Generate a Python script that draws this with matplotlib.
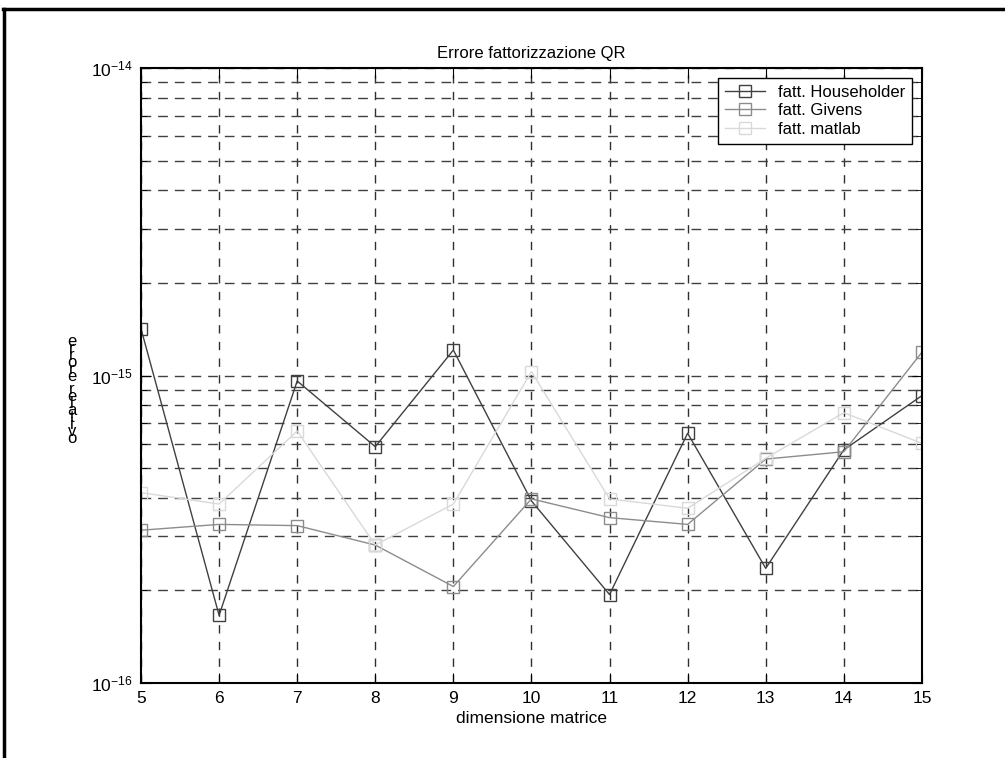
import matplotlib
matplotlib.use("Agg")
import matplotlib.pyplot as plt
from matplotlib.lines import Line2D
from matplotlib.ticker import LogLocator, FuncFormatter, NullFormatter
import numpy as np

plt.rcParams['font.family'] = ['Liberation Sans', 'DejaVu Sans']
plt.rcParams['mathtext.fontset'] = 'custom'
plt.rcParams['mathtext.rm'] = 'Liberation Sans'
plt.rcParams['mathtext.it'] = 'Liberation Sans'

# Data
dimensione = np.arange(5, 16)
err_householder = np.array([1.42e-15, 1.66e-16, 9.6e-16, 5.87e-16, 1.21e-15, 3.91e-16,
                            1.94e-16, 6.49e-16, 2.36e-16, 5.73e-16, 8.6e-16])
err_givens = np.array([3.14e-16, 3.28e-16, 3.25e-16, 2.81e-16, 2.06e-16, 3.97e-16,
                       3.45e-16, 3.28e-16, 5.35e-16, 5.65e-16, 1.19e-15])
err_matlab = np.array([4.16e-16, 3.82e-16, 6.6e-16, 2.81e-16, 3.82e-16, 1.03e-15,
                       3.97e-16, 3.70e-16, 5.38e-16, 7.57e-16, 6.02e-16])

fig = plt.figure(figsize=(10.05, 7.58), dpi=100)
ax = fig.add_axes([0.1403, 0.0989, 0.777, 0.8114])

style = dict(marker='s', markerfacecolor='none', markersize=8, linewidth=1, markeredgewidth=1)
ax.semilogy(dimensione, err_householder, color='#404040', label='fatt. Householder', **style)
ax.semilogy(dimensione, err_givens, color='#8c8c8c', label='fatt. Givens', **style)
ax.semilogy(dimensione, err_matlab, color='#d9d9d9', label='fatt. matlab', **style)

ax.set_xlim(5, 15)
ax.set_ylim(1e-16, 1e-14)
ax.set_xticks(dimensione)
ax.yaxis.set_major_locator(LogLocator(base=10))
ax.yaxis.set_minor_locator(LogLocator(base=10, subs=np.arange(2, 10)))
ax.yaxis.set_minor_formatter(NullFormatter())
ax.yaxis.set_major_formatter(FuncFormatter(
    lambda v, p: r'$10^{%d}$' % int(round(np.log10(v)))))

ax.tick_params(which='both', direction='in', top=True, right=True, labelsize=12.5)
ax.tick_params(which='major', length=7, pad=6)
ax.tick_params(which='minor', length=4)

ax.grid(True, which='major', axis='x', color='#303030', linestyle=(0, (6, 6)), linewidth=1)
ax.grid(True, which='both', axis='y', color='#404040', linestyle=(0, (7, 5)), linewidth=1)
for s in ax.spines.values():
    s.set_linewidth(1.5)

ax.set_title('Errore fattorizzazione QR', fontsize=12, pad=7)
ax.set_xlabel('dimensione matrice', fontsize=12.5, labelpad=3)
ax.yaxis.label.set_visible(False)

# y label drawn as stacked upright characters
fig.text(0.0716, 0.4855, '\n'.join('errore relativo'), fontsize=12,
         linespacing=0.33, ha='center', va='center')

leg = ax.legend(loc='upper right', fontsize=12, fancybox=False, framealpha=1,
                edgecolor='black', borderpad=0.4, labelspacing=0.22,
                handlelength=2.4, handletextpad=0.8, borderaxespad=0.6)
leg.get_frame().set_linewidth(1)

# outer frame lines
fig.add_artist(Line2D([0.003, 1.0], [0.988, 0.988], color='black', linewidth=2.5,
                      transform=fig.transFigure))
fig.add_artist(Line2D([0.004, 0.004], [0.0, 0.988], color='black', linewidth=2.5,
                      transform=fig.transFigure))

fig.savefig('out.png', dpi=100)
